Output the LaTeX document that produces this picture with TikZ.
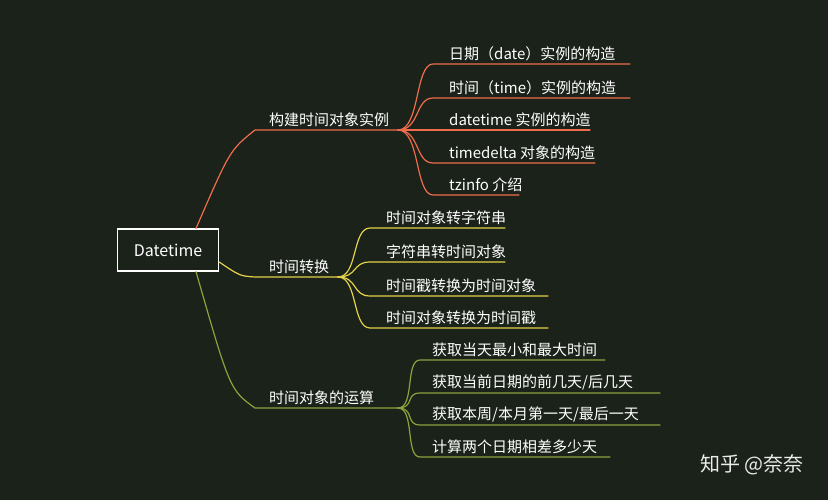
\documentclass[tikz,border=0pt]{standalone}
\usepackage{fontspec}
\setmainfont{Noto Sans CJK SC}
\usepackage{tikz}
\usetikzlibrary{calc}
\definecolor{bgc}{HTML}{1A2219}
\definecolor{orangeb}{HTML}{EF6C4C}
\definecolor{yellowb}{HTML}{E4D24A}
\definecolor{greenb}{HTML}{8BA33D}
\tikzset{
  lbl/.style={anchor=south west,inner sep=2pt,text=white,font=\fontsize{15}{17}\selectfont},
  branch/.style={line width=1.2pt,line cap=round},
}
\begin{document}
\begin{tikzpicture}[x=1pt,y=-1pt]
    \fill[bgc] (0,0) rectangle (828,500);
    \useasboundingbox (0,0) rectangle (828,500);
    % root
    \node[draw=white,line width=1.2pt,minimum width=101pt,minimum height=42pt,text=white,font=\fontsize{16}{18}\selectfont] (root) at (168,250) {Datetime};
    % first level
    \coordinate (b1s) at (255,130); \coordinate (b1e) at (398,130);
    \coordinate (b2s) at (255,277); \coordinate (b2e) at (338,277);
    \coordinate (b3s) at (255,408); \coordinate (b3e) at (398,408);
    \node[lbl] (b1) at ($(b1s)+(12,-1)$) {构建时间对象实例};
    \node[lbl] (b2) at ($(b2s)+(12,-1)$) {时间转换};
    \node[lbl] (b3) at ($(b3s)+(12,-1)$) {时间对象的运算};
    \draw[branch,orangeb] ($(root.north)+(28,0)$) .. controls (230,150) .. (b1s) -- (b1e);
    \draw[branch,yellowb] ($(root.east)+(0,12)$) .. controls (240,276) .. (b2s) -- (b2e);
    \draw[branch,greenb] ($(root.south)+(28,0)$) .. controls (230,390) .. (b3s) -- (b3e);
    % leaves
    \foreach \y/\e/\t [count=\i] in {64/630/{日期（date）实例的构造}, 98/630/{时间（time）实例的构造},
        130/590/{datetime 实例的构造}, 163/595/{timedelta 对象的构造}, 195/519/{tzinfo 介绍}}{
      \coordinate (a\i) at (433,\y);
      \node[lbl] (al\i) at ($(a\i)+(14,-1)$) {\t};
      \draw[branch,orangeb] (b1e) .. controls (420,130) and (415,\y) .. (a\i) -- (\e,\y);
    }
    \foreach \y/\e/\t [count=\i] in {228/505/{时间对象转字符串}, 262/505/{字符串转时间对象},
        296/548/{时间戳转换为时间对象}, 328/548/{时间对象转换为时间戳}}{
      \coordinate (c\i) at (370,\y);
      \node[lbl] (cl\i) at ($(c\i)+(14,-1)$) {\t};
      \draw[branch,yellowb] (b2e) .. controls (358,277) and (352,\y) .. (c\i) -- (\e,\y);
    }
    \foreach \y/\e/\t [count=\i] in {360/605/{获取当天最小和最大时间}, 393/660/{获取当前日期的前几天/后几天},
        425/660/{获取本周/本月第一天/最后一天}, 457/610/{计算两个日期相差多少天}}{
      \coordinate (d\i) at (420,\y);
      \node[lbl] (dl\i) at ($(d\i)+(10,-1)$) {\t};
      \draw[branch,greenb] (b3e) .. controls (415,408) and (405,\y) .. (d\i) -- (\e,\y);
    }
    \node[text=white!85!gray,font=\fontsize{20}{22}\selectfont] (wm) at (752,465) {知乎 @奈奈};
\end{tikzpicture}
\end{document}
